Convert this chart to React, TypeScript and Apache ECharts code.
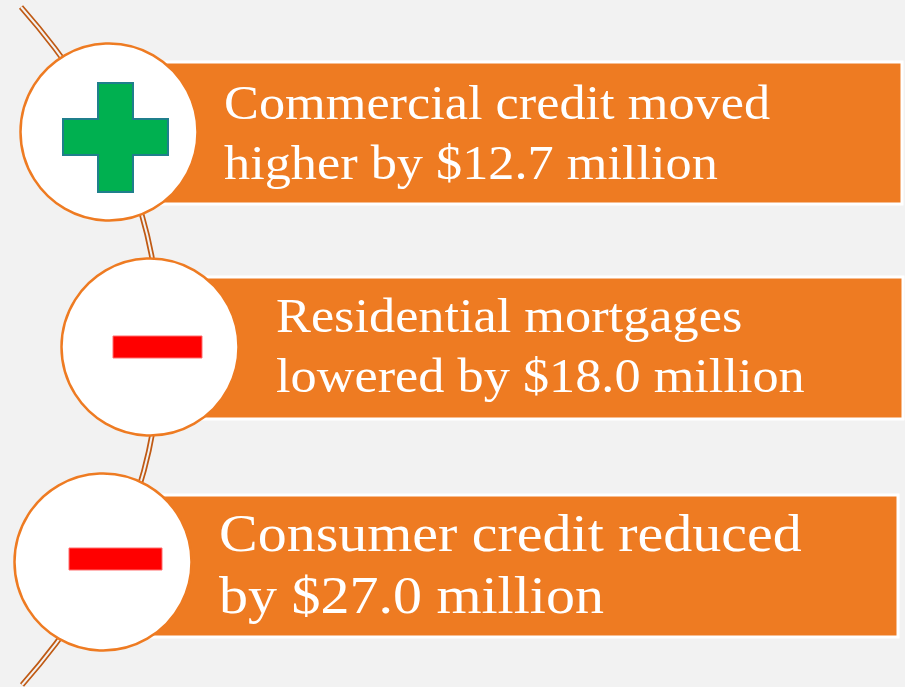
import React, { useEffect, useRef } from "react";
import * as echarts from "echarts";

// Content
const itemTitles = ["Commercial credit moved", "Residential mortgages", "Consumer credit reduced"];
const itemDetails = ["higher by $12.7 million", "lowered by $18.0 million", "by $27.0 million"];
const itemSigns = ["plus", "minus", "minus"];

// Layout (kept separate from data)
const layout = [
  { bar: [160, 62, 742, 142], circle: [109, 132], textX: 224, base1: 127, base2: 187, font: 48, sx: 1.09, sign: [63, 83, 168, 192] },
  { bar: [200, 277, 703, 142], circle: [150, 347], textX: 276, base1: 340, base2: 400, font: 48, sx: 1.09, sign: [113, 336, 202, 358] },
  { bar: [150, 495, 748, 142], circle: [103, 562], textX: 219, base1: 560, base2: 622, font: 52, sx: 1.115, sign: [69, 548, 162, 570] },
];

const ORANGE = "#EE7B22";
const BROWN = "#C05A14";
const BG = "#F2F2F2";

export default function App() {
  const ref = useRef<HTMLDivElement>(null);
  useEffect(() => {
    if (!ref.current) return;
    const chart = echarts.init(ref.current, undefined, { renderer: "svg" });
    const g: any[] = [];

    // decorative double curve
    const curves = [
      { x1: 21, y1: 7, cpx1: 120, cpy1: 119.5, cpx2: 160, cpy2: 226, x2: 160, y2: 346 },
      { x1: 160, y1: 346, cpx1: 160, cpy1: 466, cpx2: 121, cpy2: 572.5, x2: 22, y2: 685 },
    ];
    curves.forEach((s) => {
      g.push({ type: "bezierCurve", shape: s, style: { stroke: BROWN, lineWidth: 5.5, fill: null }, z: 1 });
      g.push({ type: "bezierCurve", shape: s, style: { stroke: BG, lineWidth: 2, fill: null }, z: 2 });
    });

    itemTitles.forEach((title, i) => {
      const L = layout[i];
      const [bx, by, bw, bh] = L.bar;
      g.push({
        type: "rect",
        shape: { x: bx, y: by, width: bw, height: bh },
        style: { fill: ORANGE, stroke: "#FFFFFF", lineWidth: 3 },
        z: 3,
      });
      const lines = [title, itemDetails[i]];
      const bases = [L.base1, L.base2];
      lines.forEach((t, j) => {
        g.push({
          type: "text",
          x: L.textX,
          y: bases[j],
          scaleX: L.sx,
          style: {
            text: t,
            x: 0,
            y: 0,
            fill: "#FFFFFF",
            font: `${L.font}px "Liberation Serif", "Times New Roman", serif`,
            align: "left",
            verticalAlign: "bottom",
          },
          z: 10,
        });
      });
      const [cx, cy] = L.circle;
      g.push({
        type: "circle",
        shape: { cx, cy, r: 88.5 },
        style: { fill: "#FFFFFF", stroke: ORANGE, lineWidth: 2.5 },
        z: 5,
      });
      const [x0, y0, x1, y1] = L.sign;
      if (itemSigns[i] === "plus") {
        const vx0 = 98, vx1 = 133, hy0 = 119, hy1 = 155;
        g.push({
          type: "polygon",
          shape: {
            points: [
              [vx0, y0], [vx1, y0], [vx1, hy0], [x1, hy0], [x1, hy1], [vx1, hy1],
              [vx1, y1], [vx0, y1], [vx0, hy1], [x0, hy1], [x0, hy0], [vx0, hy0],
            ],
          },
          style: { fill: "#00B050", stroke: "#1F7F8C", lineWidth: 2 },
          z: 6,
        });
      } else {
        g.push({
          type: "rect",
          shape: { x: x0, y: y0, width: x1 - x0, height: y1 - y0 },
          style: { fill: "#FF0000", stroke: "#FF6E6E", lineWidth: 1 },
          z: 6,
        });
      }
    });

    chart.setOption({
      animation: false,
      backgroundColor: BG,
      graphic: { elements: g },
    });
    return () => chart.dispose();
  }, []);
  return <div ref={ref} style={{ position: "absolute", left: 0, top: 0, width: 905, height: 687 }} />;
}
